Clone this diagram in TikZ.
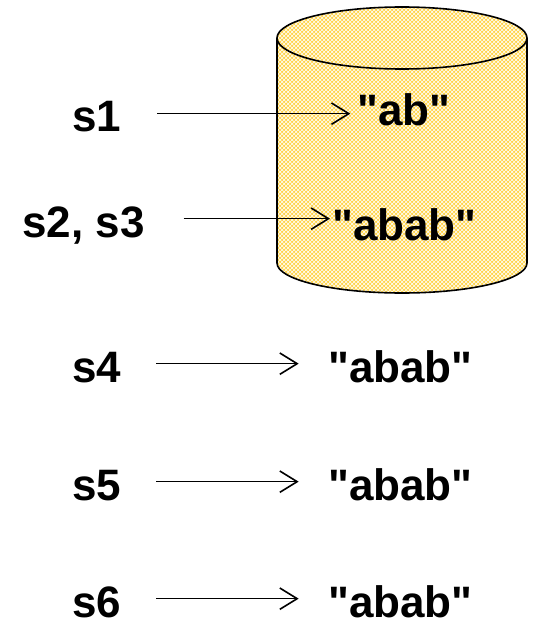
\documentclass[tikz,border=0pt]{standalone}
\usepackage{fontspec}
\setmainfont{Liberation Sans}[Ligatures=TeXOff]
\usetikzlibrary{arrows.meta,patterns}

\definecolor{drum}{RGB}{255,212,72}

\tikzset{
  lbl/.style={font=\bfseries\fontsize{33}{40}\selectfont, inner sep=0pt,
              text height=27.5pt, text depth=0pt, anchor=base west},
  ptr/.style={line width=1.2pt, -{Straight Barb[length=13pt,width=16pt]}},
}

\begin{document}
\begin{tikzpicture}[x=0.75pt,y=-0.75pt]
    \useasboundingbox (0,0) rectangle (534,624);

    % the store
    \fill [drum] (277,38) -- (277,263) arc [start angle=180, end angle=0, x radius=125, y radius=30]
        -- (527,38) arc [start angle=0, end angle=-180, x radius=125, y radius=31] -- cycle;
    \fill [pattern=crosshatch, pattern color=white] (277,38) -- (277,263) arc [start angle=180, end angle=0, x radius=125, y radius=30]
        -- (527,38) arc [start angle=0, end angle=-180, x radius=125, y radius=31] -- cycle;
    \draw [line width=1.2pt] (277,38) -- (277,263) arc [start angle=180, end angle=0, x radius=125, y radius=30] -- (527,38);
    \draw [line width=1.2pt] (402,38) ellipse [x radius=125, y radius=31];

    % names
    \node [lbl] (s1) at (72,132) {s1};
    \node [lbl] (s23) at (22,237) {s2, s3};
    \node [lbl] (s4) at (72,382) {s4};
    \node [lbl] (s5) at (72,500) {s5};
    \node [lbl] (s6) at (72,617) {s6};

    % values
    \node [lbl] (v1) at (357,126) {"ab"};
    \node [lbl] (v23) at (332,240) {"abab"};
    \node [lbl] (v4) at (328,382) {"abab"};
    \node [lbl] (v5) at (328,500) {"abab"};
    \node [lbl] (v6) at (328,617) {"abab"};

    \draw [ptr, shorten <=27pt, shorten >=5pt] (s1.east) -- (s1.east -| v1.west);
    \draw [ptr, shorten <=29pt, shorten >=1.5pt] (s23.east) -- (s23.east -| v23.west);
    \draw [ptr, shorten <=26pt, shorten >=22pt] (s4.east) -- (s4.east -| v4.west);
    \draw [ptr, shorten <=26pt, shorten >=22pt] (s5.east) -- (s5.east -| v5.west);
    \draw [ptr, shorten <=26pt, shorten >=22pt] (s6.east) -- (s6.east -| v6.west);
\end{tikzpicture}
\end{document}
